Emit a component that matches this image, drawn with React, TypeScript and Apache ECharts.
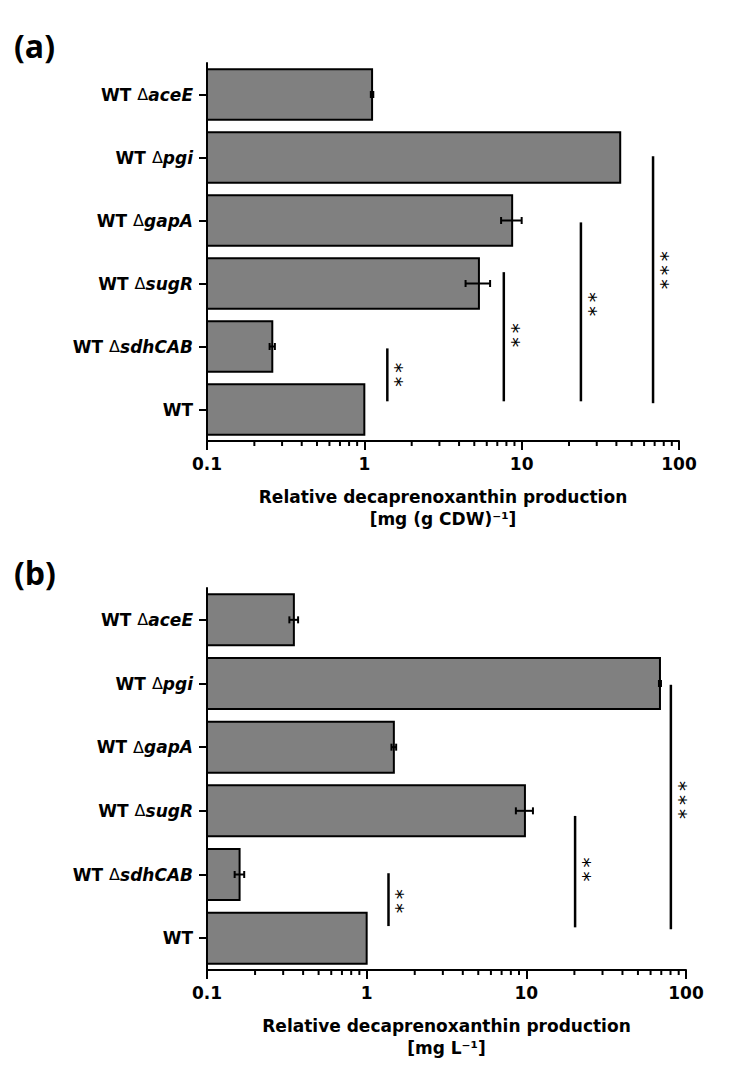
import React, { useEffect, useRef } from "react";
import * as echarts from "echarts";

// Strains, bottom-to-top order on the category axis
const genes = ["", "sdhCAB", "sugR", "gapA", "pgi", "aceE"];
const categories = genes.map((g) => (g ? "WT Δ" + g : "WT"));

// Panel (a): relative production per CDW
const cdwMean = [1.0, 0.26, 5.35, 8.7, 42.3, 1.12];
const cdwErr = [0, 0.01, 0.95, 1.3, 0, 0.02];
// significance: [x value, y from, y to, stars, star centre y]
const cdwSig = [
  [1.4, 0.13, 0.97, 2, 0.55],
  [7.7, 0.13, 2.18, 2, 1.18],
  [23.8, 0.13, 2.97, 2, 1.67],
  [68.4, 0.1, 4.02, 3, 2.21],
];

// Panel (b): relative production per litre
const titerMean = [1.0, 0.16, 9.8, 1.48, 68.7, 0.35];
const titerErr = [0, 0.011, 1.2, 0.05, 1.0, 0.022];
const titerSig = [
  [1.37, 0.19, 1.02, 2, 0.58],
  [20.2, 0.17, 1.92, 2, 1.08],
  [80.4, 0.14, 3.98, 3, 2.17],
];

const xTicks = [0.1, 1, 10, 100];
const minorTicks = [0.2, 0.3, 0.4, 0.5, 0.6, 0.7, 0.8, 0.9, 2, 3, 4, 5, 6, 7, 8, 9, 20, 30, 40, 50, 60, 70, 80, 90];

const FONT = "'DejaVu Sans', Verdana, sans-serif";

function barItem(params: any, api: any) {
  const v = api.value(0);
  const c = api.value(1);
  const a = api.coord([0.1, c + 0.4]);
  const b = api.coord([v, c - 0.4]);
  return {
    type: "rect",
    shape: { x: a[0], y: a[1], width: b[0] - a[0], height: b[1] - a[1] },
    style: { fill: "#808080", stroke: "#000", lineWidth: 2 },
  };
}

function errItem(params: any, api: any) {
  const v = api.value(0);
  const c = api.value(1);
  const e = api.value(2);
  const lo = api.coord([v - e, c]);
  const hi = api.coord([v + e, c]);
  const st = { stroke: "#000", lineWidth: 2 };
  return {
    type: "group",
    children: [
      { type: "line", shape: { x1: lo[0], y1: lo[1], x2: hi[0], y2: hi[1] }, style: st },
      { type: "line", shape: { x1: lo[0], y1: lo[1] - 3.5, x2: lo[0], y2: lo[1] + 3.5 }, style: st },
      { type: "line", shape: { x1: hi[0], y1: hi[1] - 3.5, x2: hi[0], y2: hi[1] + 3.5 }, style: st },
    ],
  };
}

function sigItem(params: any, api: any) {
  const x = api.value(0);
  const p0 = api.coord([x, api.value(1)]);
  const p1 = api.coord([x, api.value(2)]);
  const n = api.value(3);
  const ps = api.coord([x, api.value(4)]);
  const stars = new Array(n).fill("*").join("\u2009");
  return {
    type: "group",
    children: [
      { type: "line", shape: { x1: p0[0], y1: p0[1], x2: p1[0], y2: p1[1] }, style: { stroke: "#000", lineWidth: 2.5 } },
      {
        type: "text",
        x: ps[0] + 9,
        y: ps[1],
        rotation: -Math.PI / 2,
        style: {
          text: stars,
          fontSize: 20,
          fontFamily: FONT,
          fill: "#000",
          align: "center",
          verticalAlign: "middle",
        },
      },
    ],
  };
}

function minorItem(params: any, api: any) {
  const p = api.coord([api.value(0), -0.5]);
  return { type: "line", shape: { x1: p[0], y1: p[1], x2: p[0], y2: p[1] + 5 }, style: { stroke: "#000", lineWidth: 2 } };
}

const catLabel = (v: string) => {
  if (v === "WT") return "{b|WT}";
  return "{b|WT }{d|Δ}{i|" + v.replace("WT Δ", "") + "}";
};

function xAxisFor(gridIndex: number, name: string) {
  return {
    type: "log",
    gridIndex,
    logBase: 10,
    min: 0.1,
    max: 100,
    axisLine: { show: true, onZero: false, lineStyle: { color: "#000", width: 2 } },
    axisTick: { show: true, length: 9, lineStyle: { color: "#000", width: 2 } },
    splitLine: { show: false },
    axisLabel: {
      color: "#000",
      fontFamily: FONT,
      fontWeight: "bold",
      fontSize: 17,
      margin: 14,
      formatter: (v: number) => {
        const t = xTicks.find((k) => Math.abs(k - v) / k < 1e-6);
        return t === undefined ? "" : String(t);
      },
    },
    name,
    nameLocation: "middle",
    nameGap: 45,
    nameTextStyle: { color: "#000", fontFamily: FONT, fontWeight: "bold", fontSize: 17, lineHeight: 22 },
  };
}

function catAxisFor(gridIndex: number) {
  return {
    type: "category",
    gridIndex,
    data: categories,
    axisLine: { show: true, onZero: false, lineStyle: { color: "#000", width: 2 } },
    axisTick: { show: true, alignWithLabel: true, length: 8, lineStyle: { color: "#000", width: 2 } },
    axisLabel: {
      margin: 14,
      formatter: catLabel,
      rich: {
        b: { fontFamily: FONT, fontWeight: "bold", fontSize: 17, color: "#000" },
        d: { fontFamily: FONT, fontWeight: "normal", fontSize: 16, color: "#000" },
        i: { fontFamily: FONT, fontWeight: "bold", fontStyle: "italic", fontSize: 17, color: "#000" },
      },
    },
  };
}

function valAxisFor(gridIndex: number) {
  return { type: "value", gridIndex, min: -0.5, max: 5.5, show: false };
}

function seriesFor(xi: number, yi: number, mean: number[], err: number[], sig: number[][]) {
  return [
    {
      type: "custom",
      xAxisIndex: xi,
      yAxisIndex: yi,
      renderItem: barItem,
      encode: { x: 0, y: 1 },
      data: mean.map((v, i) => [v, i]),
    },
    {
      type: "custom",
      xAxisIndex: xi,
      yAxisIndex: yi,
      renderItem: errItem,
      encode: { x: 0, y: 1 },
      data: mean.map((v, i) => [v, i, err[i]]).filter((d) => d[2] > 0),
    },
    {
      type: "custom",
      xAxisIndex: xi,
      yAxisIndex: yi,
      renderItem: sigItem,
      encode: { x: 0, y: 1 },
      data: sig,
    },
    {
      type: "custom",
      xAxisIndex: xi,
      yAxisIndex: yi,
      renderItem: minorItem,
      encode: { x: 0 },
      data: minorTicks.map((v) => [v]),
    },
  ];
}

export default function App() {
  const ref = useRef<HTMLDivElement>(null);
  useEffect(() => {
    if (!ref.current) return;
    const chart = echarts.init(ref.current, null, { renderer: "svg" });
    chart.setOption({
      animation: false,
      backgroundColor: "#fff",
      grid: [
        { left: 199, top: 55, width: 472, height: 378 },
        { left: 199, top: 580, width: 479, height: 382 },
      ],
      xAxis: [
        xAxisFor(0, "Relative decaprenoxanthin production\n[mg (g CDW)⁻¹]"),
        xAxisFor(1, "Relative decaprenoxanthin production\n[mg L⁻¹]"),
      ],
      yAxis: [catAxisFor(0), valAxisFor(0), catAxisFor(1), valAxisFor(1)],
      graphic: [
        { type: "text", x: 6, y: 37, style: { text: "(a)", fontFamily: "'Open Sans', sans-serif", fontWeight: "bold", fontSize: 32, fill: "#000", verticalAlign: "middle" } },
        { type: "text", x: 6, y: 564, style: { text: "(b)", fontFamily: "'Open Sans', sans-serif", fontWeight: "bold", fontSize: 32, fill: "#000", verticalAlign: "middle" } },
      ],
      series: [
        ...seriesFor(0, 1, cdwMean, cdwErr, cdwSig),
        ...seriesFor(1, 3, titerMean, titerErr, titerSig),
      ],
    });
    return () => chart.dispose();
  }, []);
  return <div ref={ref} style={{ width: 718, height: 1056 }} />;
}
